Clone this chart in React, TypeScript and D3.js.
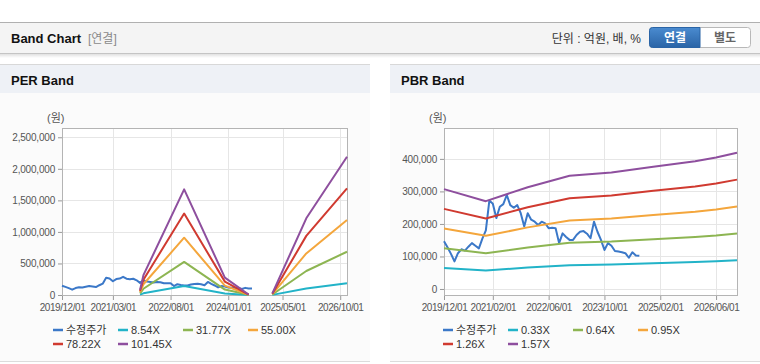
import { useEffect, useRef } from "react";
import * as d3 from "d3";

// 수정주가, monthly from 2019/12 (원)
const priceStart = "2019/12"
const priceValues = [
  147000, 128000, 108000, 85000, 110000, 122000, 118000, 130000, 141000, 133000, 125000, 155000,
  180000, 272000, 262000, 218000, 253000, 261000, 289000, 258000, 250000, 258000, 233000, 192000,
  233000, 213000, 207000, 197000, 207000, 202000, 187000, 188000, 187000, 141000, 171000, 160000,
  151000, 151000, 166000, 176000, 178000, 170000, 156000, 207000, 176000, 151000, 120000, 141000,
  133000, 117000, 115000, 113000, 110000, 96000, 113000, 103000, 102000,
]

// PER band (null = no band, EPS < 0)
const perDates = ["2021/11", "2021/12", "2022/12", "2023/12", "2024/07", "2024/10", "2025/02", "2025/12", "2026/12"]
const perLabels = ["8.54X", "31.77X", "55.00X", "78.22X", "101.45X"]
const per854 = [6800, 26500, 141000, 23100, 700, null, 2100, 102300, 184400]
const per3177 = [25400, 98500, 524500, 86100, 2500, null, 7900, 380600, 685900]
const per5500 = [44000, 170500, 908000, 149000, 4400, null, 13800, 658900, 1187500]
const per7822 = [62600, 242500, 1291400, 212000, 6300, null, 19600, 937100, 1688800]
const per10145 = [81200, 314500, 1675000, 275000, 8100, null, 25400, 1215400, 2190400]
const perTicks = ["2019/12/01", "2021/03/01", "2022/08/01", "2024/01/01", "2025/05/01", "2026/10/01"]

// PBR band
const pbrDates = ["2019/12", "2020/12", "2021/12", "2022/12", "2023/12", "2024/12", "2025/12", "2026/06", "2026/12"]
const pbrLabels = ["0.33X", "0.64X", "0.95X", "1.26X", "1.57X"]
const pbr033 = [64500, 56800, 65800, 73200, 75200, 79000, 82600, 84900, 88100]
const pbr064 = [125100, 110100, 127600, 141900, 145900, 153300, 160200, 164700, 170800]
const pbr095 = [185700, 163400, 189400, 210600, 216600, 227500, 237800, 244400, 253600]
const pbr126 = [246300, 216700, 251200, 279300, 287300, 301800, 315400, 324200, 336300]
const pbr157 = [307000, 270000, 313000, 348000, 358000, 376000, 393000, 404000, 419000]
const pbrTicks = ["2019/12/01", "2021/02/01", "2022/06/01", "2023/10/01", "2025/02/01", "2026/06/01"]

const priceColor = "#3b78c8"
const bandColors = ["#22b3c8", "#8db552", "#f4a63c", "#d03a30", "#8e4f9e"]
const FONT = "'Liberation Sans', Arial, 'Noto Sans CJK KR', sans-serif"

// months since 2019/12
const monthIdx = (s: string) => {
  const [y, m] = s.split("/").map(Number)
  return (y - 2019) * 12 + m - 12
}

type Pt = [number, number | null]

interface ChartCfg {
  title: string
  panelX: number
  panelW: number
  left: number
  right: number
  top: number
  bottom: number
  yDomain: [number, number]
  ticks: string[]
  dates: string[]
  labels: string[]
  bands: (number | null)[][]
}

function drawChart(svg: d3.Selection<SVGSVGElement, unknown, null, undefined>, cfg: ChartCfg) {
  const g = svg.append("g")

  // panel
  g.append("rect").attr("x", cfg.panelX).attr("y", 64).attr("width", cfg.panelW).attr("height", 298).attr("fill", "#fbfbfb")
  g.append("rect").attr("x", cfg.panelX).attr("y", 64).attr("width", cfg.panelW).attr("height", 29).attr("fill", "#eef1f6")
  g.append("line").attr("x1", cfg.panelX).attr("x2", cfg.panelX + cfg.panelW).attr("y1", 64.5).attr("y2", 64.5).attr("stroke", "#d8d8d8")
  g.append("line").attr("x1", cfg.panelX).attr("x2", cfg.panelX + cfg.panelW).attr("y1", 361.5).attr("y2", 361.5).attr("stroke", "#dcdcdc")
  g.append("text").attr("x", cfg.panelX + 11).attr("y", 85)
    .style("font", `bold 13px ${FONT}`).attr("fill", "#111").text(cfg.title)

  const x = d3.scaleLinear().domain([0, 84]).range([cfg.left, cfg.right])
  const y = d3.scaleLinear().domain(cfg.yDomain).range([cfg.bottom, cfg.top])
  const yTicks = y.ticks(5)

  g.append("rect").attr("x", cfg.left).attr("y", cfg.top)
    .attr("width", cfg.right - cfg.left).attr("height", cfg.bottom - cfg.top).attr("fill", "#fff")

  // grid
  g.selectAll(".hgrid").data(yTicks).join("line")
    .attr("x1", cfg.left).attr("x2", cfg.right)
    .attr("y1", d => Math.round(y(d)) + 0.5).attr("y2", d => Math.round(y(d)) + 0.5)
    .attr("stroke", "#e6e6e6")
  g.selectAll(".vgrid").data(cfg.ticks).join("line")
    .attr("x1", d => Math.round(x(monthIdx(d))) + 0.5).attr("x2", d => Math.round(x(monthIdx(d))) + 0.5)
    .attr("y1", cfg.top).attr("y2", cfg.bottom)
    .attr("stroke", "#e6e6e6")

  // axes
  const yAxis = g.append("g")
    .attr("transform", `translate(${cfg.left},0)`)
    .call(d3.axisLeft(y).tickValues(yTicks).tickSize(4).tickPadding(3).tickFormat(d3.format(",")))
  yAxis.select(".domain").remove()
  yAxis.selectAll("line").attr("stroke", "#999")
  yAxis.selectAll("text").style("font", `10px ${FONT}`).style("letter-spacing", "-0.2px").attr("fill", "#555")

  const xAxis = g.append("g")
    .attr("transform", `translate(0,${cfg.bottom})`)
    .call(d3.axisBottom(x).tickValues(cfg.ticks.map(monthIdx)).tickSize(5).tickPadding(4)
      .tickFormat((_, i) => cfg.ticks[i]))
  xAxis.select(".domain").remove()
  xAxis.selectAll("line").attr("stroke", "#999")
  xAxis.selectAll("text").style("font", `10px ${FONT}`).style("letter-spacing", "-0.45px").attr("fill", "#555")

  g.append("rect").attr("x", cfg.left + 0.5).attr("y", cfg.top + 0.5)
    .attr("width", cfg.right - cfg.left).attr("height", cfg.bottom - cfg.top)
    .attr("fill", "none").attr("stroke", "#b4b4b4")

  g.append("text").attr("x", cfg.left - 15).attr("y", 122)
    .style("font", `11px ${FONT}`).attr("fill", "#555").text("(원)")

  // series
  const line = d3.line<Pt>()
    .defined(d => d[1] != null)
    .x(d => x(d[0]))
    .y(d => y(d[1] as number))

  const pricePts: Pt[] = priceValues.map((v, i) => [monthIdx(priceStart) + i, v])
  g.append("path").datum(pricePts)
    .attr("fill", "none").attr("stroke", priceColor).attr("stroke-width", 2)
    .attr("stroke-linejoin", "round").attr("d", line)

  cfg.bands.forEach((vals, k) => {
    const pts: Pt[] = vals.map((v, i) => [monthIdx(cfg.dates[i]), v])
    g.append("path").datum(pts)
      .attr("fill", "none").attr("stroke", bandColors[k]).attr("stroke-width", 2)
      .attr("stroke-linejoin", "round").attr("d", line)
  })

  // legend
  const items = [{ label: "수정주가", color: priceColor },
    ...cfg.labels.map((l, k) => ({ label: l, color: bandColors[k] }))]
  const legend = g.selectAll(".legend").data(items).join("g")
    .attr("transform", (_, i) => `translate(${cfg.panelX + 53 + (i % 4) * 65},${330 + Math.floor(i / 4) * 14})`)
  legend.append("line").attr("x1", 0).attr("x2", 10).attr("y1", 0).attr("y2", 0)
    .attr("stroke", d => d.color).attr("stroke-width", 2.5)
  legend.append("text").attr("x", 13).attr("y", 4)
    .style("font", `11px ${FONT}`).attr("fill", "#333").text(d => d.label)
}

export default function App() {
  const svgRef = useRef<SVGSVGElement>(null)

  useEffect(() => {
    document.body.style.margin = "0"
    const svg = d3.select(svgRef.current!)
    svg.html(null)

    const defs = svg.append("defs")
    const sh = defs.append("linearGradient").attr("id", "shadow").attr("x1", 0).attr("x2", 0).attr("y1", 0).attr("y2", 1)
    sh.append("stop").attr("offset", 0).attr("stop-color", "#000").attr("stop-opacity", 0.12)
    sh.append("stop").attr("offset", 1).attr("stop-color", "#000").attr("stop-opacity", 0)
    const blue = defs.append("linearGradient").attr("id", "btnBlue").attr("x1", 0).attr("x2", 0).attr("y1", 0).attr("y2", 1)
    blue.append("stop").attr("offset", 0).attr("stop-color", "#4a8bd0")
    blue.append("stop").attr("offset", 1).attr("stop-color", "#2a64a6")

    svg.append("rect").attr("width", 760).attr("height", 364).attr("fill", "#fff")

    // header bar
    svg.append("rect").attr("x", 0).attr("y", 22).attr("width", 760).attr("height", 31).attr("fill", "#f4f4f4")
    svg.append("line").attr("x1", 0).attr("x2", 760).attr("y1", 22.5).attr("y2", 22.5).attr("stroke", "#b0b0b0")
    svg.append("line").attr("x1", 0).attr("x2", 760).attr("y1", 53.5).attr("y2", 53.5).attr("stroke", "#c4c4c4")
    svg.append("rect").attr("x", 0).attr("y", 54).attr("width", 760).attr("height", 4).attr("fill", "url(#shadow)")
    svg.append("text").attr("x", 11).attr("y", 43).style("font", `bold 13px ${FONT}`).attr("fill", "#111").text("Band Chart")
    svg.append("text").attr("x", 88).attr("y", 43).style("font", `12px ${FONT}`).attr("fill", "#8a8a8a").text("[연결]")
    svg.append("text").attr("x", 641).attr("y", 43).attr("text-anchor", "end")
      .style("font", `12px ${FONT}`).attr("fill", "#333").text("단위 : 억원, 배, %")

    svg.append("rect").attr("x", 649.5).attr("y", 27.5).attr("width", 101).attr("height", 20).attr("rx", 3)
      .attr("fill", "#fff").attr("stroke", "#b8b8b8")
    svg.append("path").attr("d", "M652.5,27.5 H700 V47.5 H652.5 Q649.5,47.5 649.5,44.5 V30.5 Q649.5,27.5 652.5,27.5 Z")
      .attr("fill", "url(#btnBlue)").attr("stroke", "#2a64a6")
    svg.append("text").attr("x", 675).attr("y", 42).attr("text-anchor", "middle")
      .style("font", `bold 12px ${FONT}`).attr("fill", "#fff").text("연결")
    svg.append("text").attr("x", 725).attr("y", 42).attr("text-anchor", "middle")
      .style("font", `bold 12px ${FONT}`).attr("fill", "#666").text("별도")

    drawChart(svg, {
      title: "PER Band", panelX: 0, panelW: 370,
      left: 62, right: 347, top: 128, bottom: 295,
      yDomain: [0, 2647000], ticks: perTicks, dates: perDates, labels: perLabels,
      bands: [per854, per3177, per5500, per7822, per10145],
    })
    drawChart(svg, {
      title: "PBR Band", panelX: 390, panelW: 370,
      left: 444, right: 737, top: 128, bottom: 295,
      yDomain: [-18500, 495000], ticks: pbrTicks, dates: pbrDates, labels: pbrLabels,
      bands: [pbr033, pbr064, pbr095, pbr126, pbr157],
    })
  }, [])

  return <svg ref={svgRef} width={760} height={364} style={{ display: "block" }}></svg>
}
